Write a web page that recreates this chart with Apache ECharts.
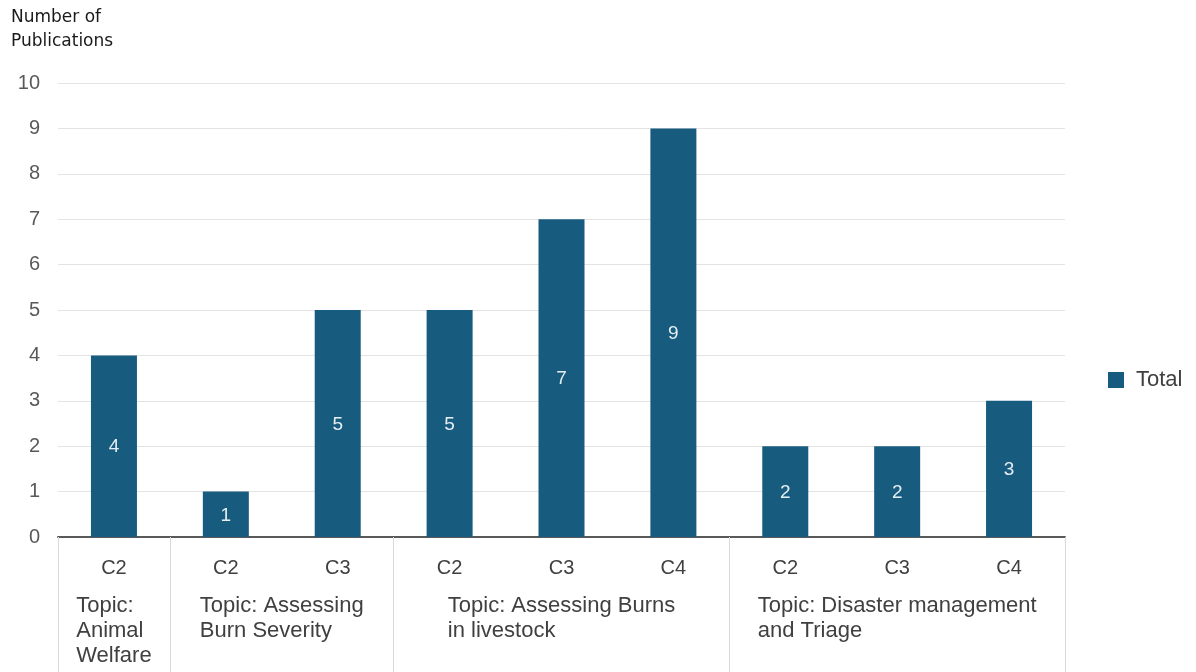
<!DOCTYPE html>
<html>
<head>
<meta charset="utf-8">
<script src="https://cdn.jsdelivr.net/npm/echarts@6/dist/echarts.min.js"></script>
<style>
  html, body { margin: 0; padding: 0; background: #fff; }
  #main { width: 1196px; height: 672px; }
</style>
</head>
<body>
<div id="main"></div>
<script>
var myChart = echarts.init(document.getElementById('main'));

// categories and values
var categories = ['C2', 'C2', 'C3', 'C2', 'C3', 'C4', 'C2', 'C3', 'C4'];
var totals = [4, 1, 5, 5, 7, 9, 2, 2, 3];

// topic groups (size = number of categories in the group)
var topicNames = [
    'Topic:\nAnimal\nWelfare',
    'Topic: Assessing\nBurn Severity',
    'Topic: Assessing Burns\nin livestock',
    'Topic: Disaster management\nand Triage'
];
var topicSizes = [1, 2, 3, 3];

var yTicks = [0, 1, 2, 3, 4, 5, 6, 7, 8, 9, 10];

// group boundaries and centers along the category positions
var bounds = [0];
var centers = [];
for (var i = 0; i < topicSizes.length; i++) {
    var start = bounds[bounds.length - 1];
    centers.push(start + topicSizes[i] / 2);
    bounds.push(start + topicSizes[i]);
}

var textColor = '#404040';
var font = 'Liberation Sans, Arial, sans-serif';

option = {
    backgroundColor: '#ffffff',
    title: {
        text: 'Number of\nPublications',
        left: 11,
        top: 6,
        padding: 0,
        textStyle: {
            fontFamily: 'DejaVu Sans, sans-serif',
            fontSize: 17,
            fontWeight: 'normal',
            lineHeight: 24,
            color: '#1a1a1a'
        }
    },
    legend: {
        data: ['Total'],
        orient: 'vertical',
        left: 1103,
        top: 364,
        itemWidth: 16,
        itemHeight: 16,
        icon: 'rect',
        textStyle: {
            fontFamily: font,
            fontSize: 22,
            padding: [0, 0, 0, 7],
            color: textColor
        }
    },
    grid: {
        left: 58,
        right: 131,
        top: 83,
        bottom: 135
    },
    xAxis: [{
        type: 'category',
        data: categories,
        axisLine: {lineStyle: {color: '#595959', width: 2}},
        axisTick: {show: false},
        axisLabel: {
            margin: 21,
            fontFamily: font,
            fontSize: 20,
            color: textColor
        }
    }, {
        type: 'value',
        min: 0,
        max: categories.length,
        position: 'bottom',
        axisLine: {show: false},
        splitLine: {show: false},
        axisTick: {
            show: true,
            inside: false,
            length: 135,
            customValues: bounds,
            lineStyle: {color: '#d9d9d9', width: 1}
        },
        axisLabel: {
            customValues: centers,
            margin: 56,
            align: 'center',
            formatter: function (val) {
                for (var k = 0; k < centers.length; k++) {
                    if (Math.abs(centers[k] - val) < 1e-6) {
                        return topicNames[k].split('\n').map(function (l) {
                            return '{t|' + l + '}';
                        }).join('\n');
                    }
                }
                return '';
            },
            rich: {
                t: {
                    align: 'left',
                    fontFamily: font,
                    fontSize: 22,
                    lineHeight: 25,
                    color: textColor
                }
            }
        }
    }],
    yAxis: {
        type: 'value',
        min: yTicks[0],
        max: yTicks[yTicks.length - 1],
        interval: 1,
        axisLine: {show: false},
        axisTick: {show: false},
        axisLabel: {
            margin: 18,
            fontFamily: font,
            fontSize: 20,
            color: '#595959'
        },
        splitLine: {lineStyle: {color: '#e3e3e3', width: 1}}
    },
    series: [{
        name: 'Total',
        type: 'bar',
        xAxisIndex: 0,
        data: totals,
        barWidth: 46,
        itemStyle: {color: '#175b7e'},
        label: {
            show: true,
            position: 'inside',
            offset: [0, 1],
            fontFamily: font,
            fontSize: 19,
            color: '#e6eef3'
        }
    }]
};
myChart.setOption(option);
</script>
</body>
</html>
